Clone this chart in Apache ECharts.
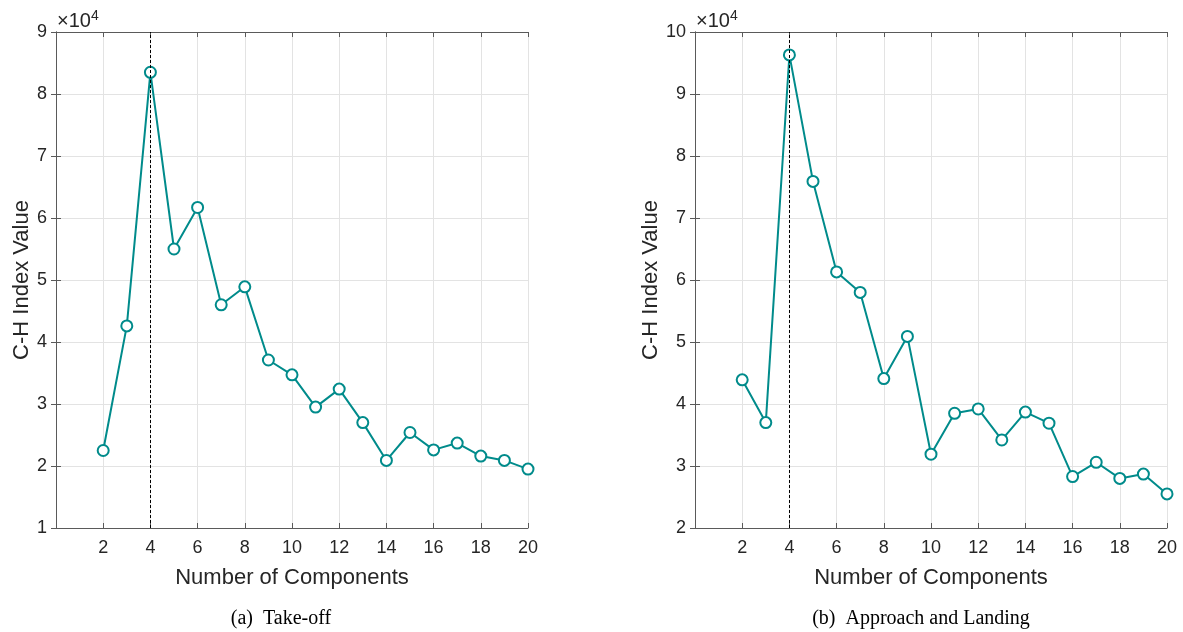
<!DOCTYPE html>
<html>
<head>
<meta charset="utf-8">
<script src="https://cdn.jsdelivr.net/npm/echarts@6/dist/echarts.min.js"></script>
<style>html,body{margin:0;padding:0;background:#fff}#c{width:1183px;height:632px}</style>
</head>
<body>
<div id="c"></div>
<script>
// Number of components
const components = [2,3,4,5,6,7,8,9,10,11,12,13,14,15,16,17,18,19,20];
// C-H index values (x10^4), (a) Take-off
const takeoff = [2.25,4.26,8.35,5.50,6.17,4.60,4.89,3.71,3.47,2.95,3.24,2.70,2.09,2.54,2.26,2.37,2.16,2.09,1.95];
// C-H index values (x10^4), (b) Approach and Landing
const landing = [4.39,3.70,9.63,7.59,6.13,5.80,4.41,5.09,3.19,3.85,3.92,3.42,3.87,3.69,2.83,3.06,2.80,2.87,2.55];
const optimalK = 4;
const captions = ['(a)  Take-off', '(b)  Approach and Landing'];
const xTitle = 'Number of Components';
const yTitle = 'C-H Index Value';
const yRanges = [[1, 9], [2, 10]];

const FONT = '"Liberation Sans", Arial, Helvetica, sans-serif';
const TXT = '#262626';
const AX = '#5a5a5a';
const TEAL = '#008b8b';

const grids = [
  {left: 56, right: 655, top: 32, bottom: 104},
  {left: 695, right: 16, top: 32, bottom: 104}
];

const xAxis = [], yAxis = [], series = [];
grids.forEach((g, i) => {
  const [ymin, ymax] = yRanges[i];
  xAxis.push({
    type: 'value', gridIndex: i, min: 0, max: 20, interval: 2, position: 'bottom',
    name: xTitle, nameLocation: 'middle', nameGap: 39,
    nameTextStyle: {fontFamily: FONT, fontSize: 22, color: TXT},
    axisLine: {show: true, lineStyle: {color: AX, width: 1}},
    axisTick: {show: true, inside: true, length: 5, lineStyle: {color: AX}},
    axisLabel: {fontFamily: FONT, fontSize: 18, color: TXT, margin: 11,
      formatter: v => v === 0 ? '' : String(v)},
    splitLine: {show: true, lineStyle: {color: '#e3e3e3', width: 1}}
  });
  xAxis.push({
    type: 'value', gridIndex: i, min: 0, max: 20, interval: 2, position: 'top',
    axisLine: {show: true, lineStyle: {color: AX, width: 1}},
    axisTick: {show: true, inside: true, length: 5, lineStyle: {color: AX}},
    axisLabel: {show: false}, splitLine: {show: false}
  });
  yAxis.push({
    type: 'value', gridIndex: i, min: ymin, max: ymax, interval: 1, position: 'left',
    name: yTitle, nameLocation: 'middle', nameGap: 22,
    nameTextStyle: {fontFamily: FONT, fontSize: 22, color: TXT},
    axisLine: {show: true, lineStyle: {color: AX, width: 1}},
    axisTick: {show: true, inside: true, length: 5, lineStyle: {color: AX}},
    axisLabel: {fontFamily: FONT, fontSize: 18, color: TXT, margin: 9},
    splitLine: {show: true, lineStyle: {color: '#e3e3e3', width: 1}}
  });
  yAxis.push({
    type: 'value', gridIndex: i, min: ymin, max: ymax, interval: 1, position: 'right',
    axisLine: {show: true, lineStyle: {color: AX, width: 1}},
    axisTick: {show: true, inside: true, length: 5, lineStyle: {color: AX}},
    axisLabel: {show: false}, splitLine: {show: false}
  });
  const vals = i === 0 ? takeoff : landing;
  series.push({
    type: 'line', xAxisIndex: i * 2, yAxisIndex: i * 2,
    data: components.map((c, k) => [c, vals[k]]),
    symbol: 'circle', symbolSize: 11, showSymbol: true,
    itemStyle: {color: '#ffffff', borderColor: TEAL, borderWidth: 2},
    lineStyle: {color: TEAL, width: 2},
    animation: false, z: 3,
    markLine: {
      silent: true, symbol: ['none', 'none'], label: {show: false},
      lineStyle: {color: '#000', type: [3, 2], width: 1},
      data: [{xAxis: optimalK}], animation: false, z: 5
    }
  });
});

const graphic = [];
const capX = [281, 921];
const expX = [57, 696];
[0, 1].forEach(i => {
  graphic.push({
    type: 'text', x: capX[i], y: 619,
    style: {text: captions[i], fontFamily: '"Liberation Serif", "Times New Roman", serif',
      fontSize: 20, fill: '#000', align: 'center', verticalAlign: 'middle'}
  });
  graphic.push({
    type: 'text', x: expX[i], y: 9,
    style: {
      text: '×10{s|4}', fontFamily: FONT, fontSize: 20, fill: TXT,
      rich: {s: {fontSize: 14, verticalAlign: 'top', fill: TXT, fontFamily: FONT, padding: [0,0,10,0]}}
    }
  });
});

const chart = echarts.init(document.getElementById('c'), null, {renderer: 'canvas'});
chart.setOption({
  backgroundColor: '#ffffff', animation: false,
  grid: grids, xAxis, yAxis, series, graphic
});
</script>
</body>
</html>
